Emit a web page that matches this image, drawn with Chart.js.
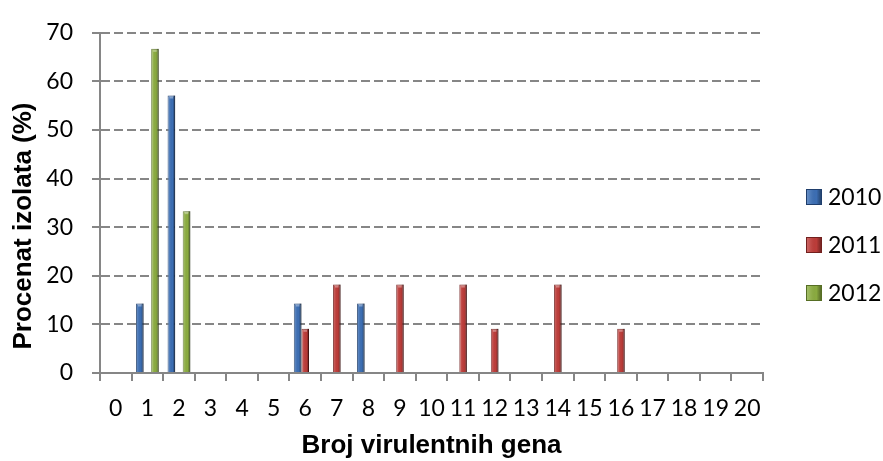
<!DOCTYPE html>
<html>
<head>
<meta charset="utf-8">
<script src="https://cdn.jsdelivr.net/npm/chart.js@4"></script>
<style>
  html, body { margin: 0; padding: 0; background: #fff; }
  #wrap { width: 883px; height: 461px; position: relative; }
</style>
</head>
<body>
<div id="wrap"><canvas id="genesChart" width="883" height="461"></canvas></div>
<script>
// Categories: number of virulence genes
const categories = ["0","1","2","3","4","5","6","7","8","9","10","11","12","13","14","15","16","17","18","19","20"];

// Percentage of isolates per year (null = no bar)
const values2010 = [null, 14.3, 57.1, null, null, null, 14.3, null, 14.3, null, null, null, null, null, null, null, null, null, null, null, null];
const values2011 = [null, null, null, null, null, null, 9.1, 18.2, null, 18.2, null, 18.2, 9.1, null, 18.2, null, 9.1, null, null, null, null];
const values2012 = [null, 66.7, 33.3, null, null, null, null, null, null, null, null, null, null, null, null, null, null, null, null, null, null];

const yTicks = [0, 10, 20, 30, 40, 50, 60, 70];

const axisGray = "#868686";
const tickFont = { family: "Lato", size: 23 };
const titleFont = { family: "Liberation Sans", size: 26, weight: "bold" };

// bevel-ish shading over each bar (light left edge, dark right edge)
function shade(ctx, x0, x1) {
  const g = ctx.createLinearGradient(x0, 0, x1, 0);
  g.addColorStop(0, "rgba(255,255,255,0.25)");
  g.addColorStop(0.3, "rgba(255,255,255,0.08)");
  g.addColorStop(0.65, "rgba(0,0,0,0)");
  g.addColorStop(1, "rgba(0,0,0,0.45)");
  return g;
}

const barShading = {
  id: "barShading",
  afterDatasetsDraw(chart) {
    const ctx = chart.ctx;
    ctx.save();
    chart.data.datasets.forEach((ds, i) => {
      chart.getDatasetMeta(i).data.forEach((bar) => {
        if (bar.$context && bar.$context.raw == null) return;
        const { x, y, base, width } = bar.getProps(["x", "y", "base", "width"], true);
        const x0 = x - width / 2, x1 = x + width / 2;
        ctx.fillStyle = shade(ctx, x0, x1);
        ctx.fillRect(x0, y, width, base - y);
        // light cap on top
        ctx.fillStyle = "rgba(255,255,255,0.35)";
        ctx.fillRect(x0 + 2, y + 1, width - 4, 2);
      });
    });
    ctx.restore();
  }
};

// Legend drawn by hand so it sits where the original has it
const sideLegend = {
  id: "sideLegend",
  afterDraw(chart) {
    const ctx = chart.ctx;
    ctx.save();
    chart.data.datasets.forEach((ds, i) => {
      const cy = 197 + i * 48;
      ctx.fillStyle = ds.backgroundColor;
      ctx.fillRect(806, cy - 8, 16, 16);
      ctx.fillStyle = shade(ctx, 806, 822);
      ctx.fillRect(806, cy - 8, 16, 16);
      ctx.strokeStyle = ds.borderColor;
      ctx.lineWidth = 1;
      ctx.strokeRect(806.5, cy - 7.5, 15, 15);
      ctx.fillStyle = "#000";
      ctx.font = "23px Lato";
      ctx.textAlign = "left";
      ctx.textBaseline = "middle";
      ctx.fillText(ds.label, 828, cy + 1);
    });
    // y axis title
    ctx.translate(24, 226);
    ctx.rotate(-Math.PI / 2);
    ctx.font = "bold 26px 'Liberation Sans'";
    ctx.textAlign = "center";
    ctx.textBaseline = "middle";
    ctx.fillText("Procenat izolata (%)", 0, 0);
    ctx.restore();
  }
};

const ctx = document.getElementById("genesChart").getContext("2d");

new Chart(ctx, {
  type: "bar",
  data: {
    labels: categories,
    datasets: [
      {
        label: "2010",
        data: values2010,
        backgroundColor: "#3C6EB3",
        borderColor: "#1F3E6C",
        borderWidth: 1,
        borderSkipped: "bottom"
      },
      {
        label: "2011",
        data: values2011,
        backgroundColor: "#BC3C39",
        borderColor: "#72201E",
        borderWidth: 1,
        borderSkipped: "bottom"
      },
      {
        label: "2012",
        data: values2012,
        backgroundColor: "#8AAB40",
        borderColor: "#566E24",
        borderWidth: 1,
        borderSkipped: "bottom"
      }
    ]
  },
  options: {
    responsive: false,
    animation: false,
    categoryPercentage: 0.72,
    barPercentage: 1.0,
    layout: {
      padding: { left: 0, top: 23, right: 120, bottom: 0 }
    },
    plugins: {
      legend: { display: false },
      tooltip: { enabled: false }
    },
    scales: {
      x: {
        afterFit: (scale) => { scale.height = 88; },
        grid: {
          display: true,
          offset: true,
          drawOnChartArea: false,
          drawTicks: true,
          tickLength: 8,
          color: axisGray,
          lineWidth: 2
        },
        border: { display: true, color: axisGray, width: 2 },
        ticks: { color: "#000", font: tickFont, padding: 14, maxRotation: 0, autoSkip: false },
        title: {
          display: true,
          text: "Broj virulentnih gena",
          color: "#000",
          font: titleFont,
          padding: { top: 0, bottom: 0 }
        }
      },
      y: {
        min: 0,
        max: 70,
        afterFit: (scale) => { scale.width = 100; },
        afterBuildTicks: (scale) => { scale.ticks = yTicks.map(v => ({ value: v })); },
        grid: {
          color: axisGray,
          lineWidth: 2,
          drawTicks: true,
          tickLength: 8,
          tickBorderDash: []
        },
        border: { display: true, color: axisGray, width: 2, dash: [9, 4] },
        ticks: { color: "#000", font: tickFont, padding: 19 }
      }
    }
  },
  plugins: [barShading, sideLegend]
});
</script>
</body>
</html>
